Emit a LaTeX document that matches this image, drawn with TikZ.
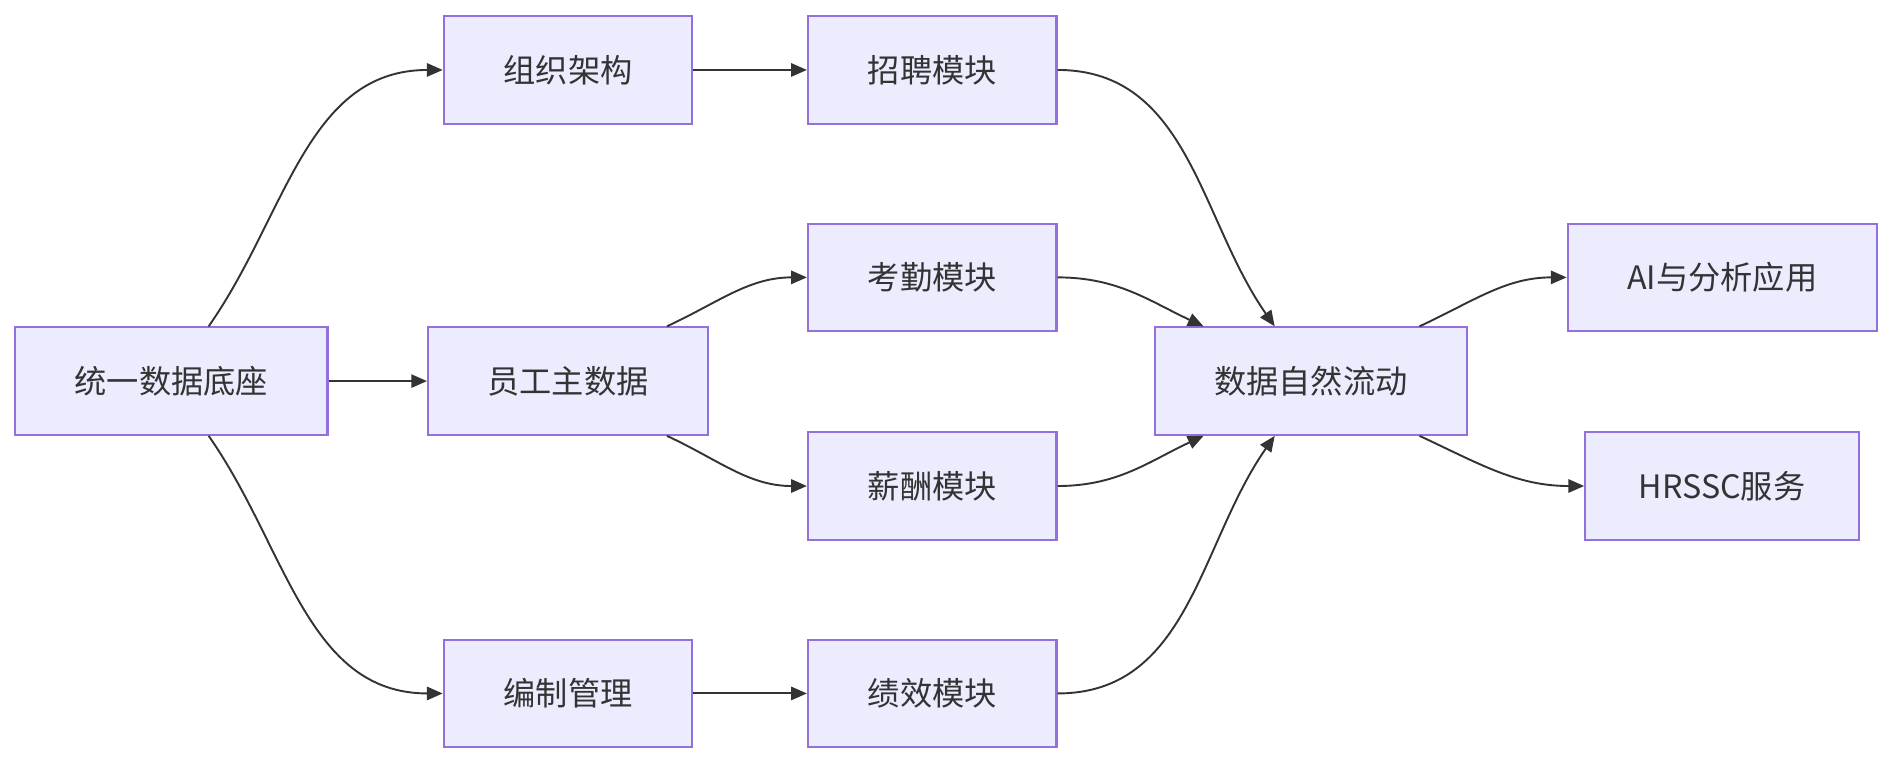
\documentclass[tikz,border=0pt]{standalone}
\usepackage{fontspec}
\setmainfont{Noto Sans CJK SC}
\usetikzlibrary{arrows.meta}
\definecolor{boxFill}{HTML}{ECECFF}
\definecolor{boxLine}{HTML}{9370DB}
\definecolor{linkLine}{HTML}{333333}
\tikzstyle{hrBox} = [rectangle, draw=boxLine, fill=boxFill, line width=0.5pt, minimum height=0.89cm, text centered, font=\fontsize{7.6}{9}\selectfont, text=linkLine]
\tikzstyle{hrArrow} = [draw=linkLine, line width=0.45pt, -{Triangle[length=1.3mm,width=1.1mm]}]

\begin{document}
\begin{tikzpicture}[x=0.01cm, y=0.01cm]
    \useasboundingbox (0,0) rectangle (1568,-633);
    \node (base) [hrBox, minimum width=2.59cm] at (142,-316) {统一数据底座};
    \node (org) [hrBox, minimum width=2.06cm] at (471,-58) {组织架构};
    \node (staff) [hrBox, minimum width=2.32cm] at (471,-316) {员工主数据};
    \node (quota) [hrBox, minimum width=2.06cm] at (471,-575) {编制管理};
    \node (recruit) [hrBox, minimum width=2.06cm] at (773,-58) {招聘模块};
    \node (attend) [hrBox, minimum width=2.06cm] at (773,-230) {考勤模块};
    \node (salary) [hrBox, minimum width=2.06cm] at (773,-403) {薪酬模块};
    \node (perf) [hrBox, minimum width=2.06cm] at (773,-575) {绩效模块};
    \node (flow) [hrBox, minimum width=2.59cm] at (1087,-316) {数据自然流动};
    \node (ai) [hrBox, minimum width=2.56cm] at (1428,-230) {AI与分析应用};
    \node (hrssc) [hrBox, minimum width=2.27cm] at (1428,-403) {HRSSC服务};

    \draw [hrArrow] ([xshift=0.31cm]base.north) to[out=55, in=180] (org.west);
    \draw [hrArrow] (base) -- (staff);
    \draw [hrArrow] ([xshift=0.31cm]base.south) to[out=-55, in=180] (quota.west);
    \draw [hrArrow] (org) -- (recruit);
    \draw [hrArrow] ([xshift=0.82cm]staff.north) to[out=25, in=180] (attend.west);
    \draw [hrArrow] ([xshift=0.82cm]staff.south) to[out=-25, in=180] (salary.west);
    \draw [hrArrow] (quota) -- (perf);
    \draw [hrArrow] (recruit.east) to[out=0, in=125] ([xshift=-0.3cm]flow.north);
    \draw [hrArrow] (attend.east) to[out=0, in=155] ([xshift=-0.89cm]flow.north);
    \draw [hrArrow] (salary.east) to[out=0, in=205] ([xshift=-0.89cm]flow.south);
    \draw [hrArrow] (perf.east) to[out=0, in=235] ([xshift=-0.3cm]flow.south);
    \draw [hrArrow] ([xshift=0.9cm]flow.north) to[out=25, in=180] (ai.west);
    \draw [hrArrow] ([xshift=0.9cm]flow.south) to[out=-25, in=180] (hrssc.west);
\end{tikzpicture}
\end{document}
